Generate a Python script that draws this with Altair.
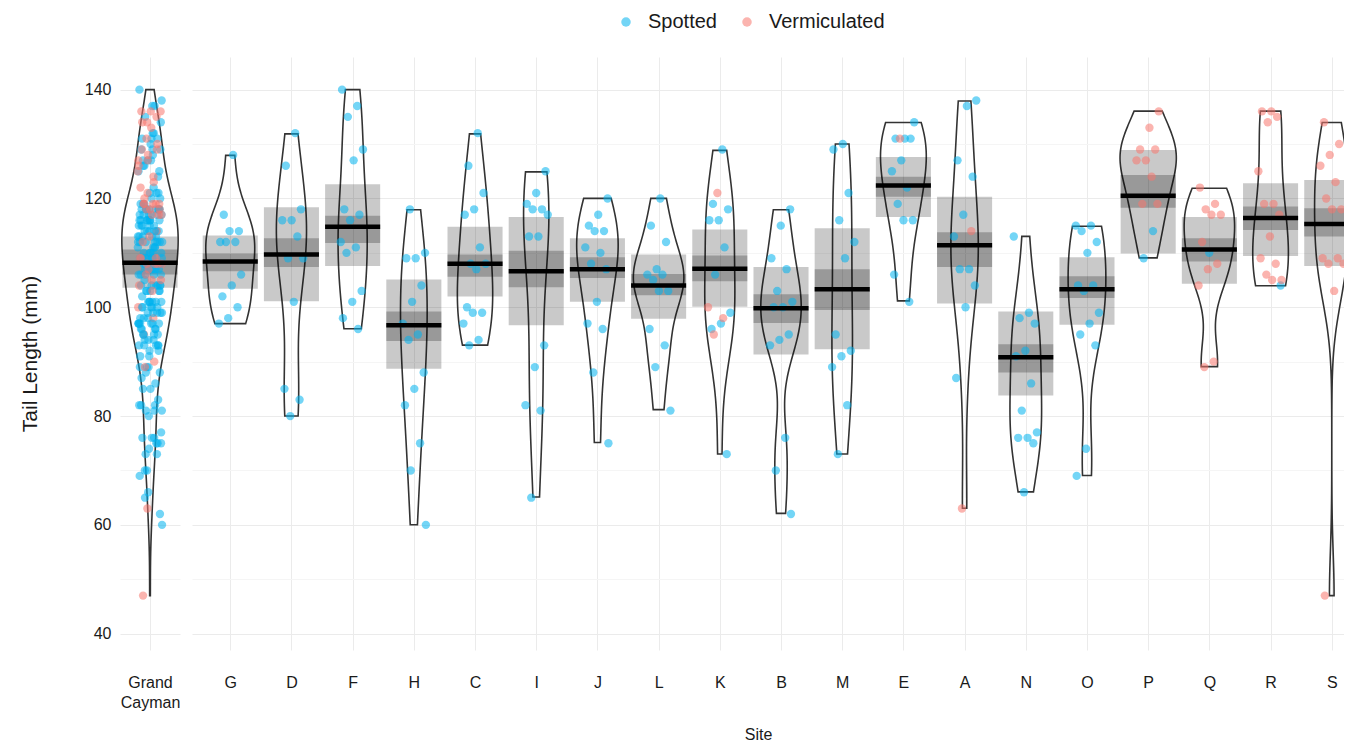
import json
import altair as alt
import pandas as pd

# ---------------- data ----------------
sites = ["G", "D", "F", "H", "C", "I", "J", "L", "K", "B", "M", "E", "A", "N", "O", "P", "Q", "R", "S"]

spotted = {
    "G": [128, 117, 114, 114, 112, 112, 112, 106, 104, 102, 100, 98, 97],
    "D": [132, 126, 118, 116, 116, 113, 109, 109, 101, 85, 83, 80],
    "F": [140, 137, 135, 129, 127, 118, 117, 116, 112, 111, 110, 103, 101, 98, 96],
    "H": [118, 110, 109, 109, 104, 101, 97, 95, 94, 88, 85, 82, 75, 70, 60],
    "C": [132, 126, 121, 118, 117, 111, 108, 108, 107, 100, 99, 99, 97, 94, 93],
    "I": [125, 121, 119, 118, 118, 117, 113, 113, 93, 89, 82, 81, 65],
    "J": [120, 117, 115, 114, 114, 111, 110, 108, 107, 101, 97, 96, 88, 75],
    "L": [120, 115, 112, 107, 106, 106, 105, 103, 103, 96, 93, 89, 81],
    "K": [129, 119, 118, 116, 116, 111, 106, 99, 97, 96, 73],
    "B": [118, 115, 109, 107, 103, 101, 100, 100, 95, 94, 93, 76, 70, 62],
    "M": [130, 129, 121, 116, 112, 109, 95, 92, 91, 89, 82, 73],
    "E": [134, 131, 131, 131, 127, 125, 122, 119, 116, 116, 106, 101],
    "A": [138, 137, 127, 124, 117, 113, 107, 107, 104, 100, 87],
    "N": [113, 99, 98, 97, 92, 91, 86, 81, 77, 76, 76, 75, 66],
    "O": [115, 115, 114, 112, 110, 104, 104, 103, 99, 97, 95, 93, 74, 69],
    "P": [114, 109],
    "Q": [110],
    "R": [104],
    "S": [],
}
vermiculated = {
    "G": [], "D": [], "F": [], "H": [], "C": [], "I": [], "J": [], "L": [],
    "K": [121, 100, 98, 95],
    "B": [], "M": [],
    "E": [131],
    "A": [114, 63],
    "N": [], "O": [],
    "P": [136, 133, 129, 129, 127, 127, 124, 119, 119],
    "Q": [122, 119, 118, 117, 117, 112, 108, 107, 104, 90, 89],
    "R": [136, 136, 135, 134, 125, 119, 119, 117, 113, 109, 108, 106, 105, 105],
    "S": [134, 130, 128, 126, 123, 120, 118, 118, 109, 109, 108, 108, 103, 47],
}

# mean line, light (HDI) box and dark (inference) band per site
site_mean = [108.4, 109.7, 114.8, 96.7, 108.0, 106.6, 107.0, 104.0, 107.1, 99.8,
             103.3, 122.4, 111.4, 90.8, 103.3, 120.5, 110.6, 116.4, 115.3]
hdi_lo = [103.4, 101.1, 107.6, 88.7, 102.0, 96.7, 101.0, 97.9, 100.1, 91.3,
          92.3, 116.6, 100.7, 83.8, 96.8, 109.9, 104.3, 109.4, 107.6]
hdi_hi = [113.2, 118.4, 122.6, 105.1, 114.8, 116.6, 112.7, 109.7, 114.3, 107.4,
          114.5, 127.6, 120.3, 99.2, 109.2, 128.9, 116.6, 122.8, 123.4]
band_lo = [106.6, 107.4, 111.8, 93.8, 105.6, 103.7, 105.4, 102.2, 104.8, 97.1,
           99.5, 120.3, 107.4, 88.0, 101.7, 118.3, 108.4, 114.2, 113.0]
band_hi = [109.9, 112.7, 116.8, 99.2, 109.7, 110.4, 109.2, 106.1, 109.5, 102.4,
           107.0, 124.0, 113.8, 93.2, 105.7, 124.3, 112.7, 118.5, 118.2]

gc_name = "Grand Cayman"
gc_mean, gc_hdi_lo, gc_hdi_hi, gc_band_lo, gc_band_hi = 108.2, 103.6, 113.0, 106.0, 110.6

patterns = ["Spotted", "Vermiculated"]
pattern_colors = ["#00B2EE", "#F8766D"]

# ---------------- tables ----------------
rows = []
for i, s in enumerate(sites):
    for v in spotted[s]:
        rows.append({"site": s, "pos": i + 1, "tail": v, "pattern": "Spotted"})
    for v in vermiculated[s]:
        rows.append({"site": s, "pos": i + 1, "tail": v, "pattern": "Vermiculated"})
pts = pd.DataFrame(rows)
gc_pts = pts.assign(site=gc_name, pos=0)

summ = pd.DataFrame({"site": sites, "pos": list(range(1, len(sites) + 1)),
                     "mean": site_mean, "lo": hdi_lo, "hi": hdi_hi,
                     "blo": band_lo, "bhi": band_hi})
gc_summ = pd.DataFrame({"site": [gc_name], "pos": [0], "mean": [gc_mean],
                        "lo": [gc_hdi_lo], "hi": [gc_hdi_hi],
                        "blo": [gc_band_lo], "bhi": [gc_band_hi]})

FONT = "Liberation Sans"
YDOM = [37, 146]
MAIN_W = 1152
grid_color = {"condition": {"test": "datum.value % 20 === 0", "value": "#EBEBEB"}, "value": "#F5F5F5"}


def panel(pdata, sdata, xdomain, width, xaxis, yaxis):
    xs = alt.Scale(domain=xdomain, nice=False, zero=False)
    ys = alt.Scale(domain=YDOM, nice=False, zero=False)

    violin = (
        alt.Chart(pdata)
        .transform_joinaggregate(tmin="min(tail)", tmax="max(tail)", groupby=["site"])
        .transform_density("tail", groupby=["site", "pos", "tmin", "tmax"],
                           as_=["tail", "density"], steps=400)
        .transform_filter("datum.tail >= datum.tmin - 0.05 && datum.tail <= datum.tmax + 0.05")
        .transform_joinaggregate(maxd="max(density)")
        .transform_calculate(
            vx1="datum.pos - 0.46 * datum.density / datum.maxd",
            vx2="datum.pos + 0.46 * datum.density / datum.maxd",
        )
        .mark_area(orient="horizontal", fillOpacity=0, stroke="#333333", strokeWidth=1.6, clip=True)
        .encode(
            y=alt.Y("tail:Q", scale=ys, axis=yaxis),
            x=alt.X("vx1:Q", scale=xs, axis=xaxis),
            x2="vx2:Q",
            detail="site:N",
        )
    )
    sbase = alt.Chart(sdata).transform_calculate(bx1="datum.pos - 0.45", bx2="datum.pos + 0.45")
    light = sbase.mark_rect(color="black", opacity=0.21, clip=True).encode(
        x=alt.X("bx1:Q", scale=xs, axis=xaxis), x2="bx2:Q",
        y=alt.Y("lo:Q", scale=ys, axis=yaxis), y2="hi:Q")
    dark = sbase.mark_rect(color="black", opacity=0.24, clip=True).encode(
        x=alt.X("bx1:Q", scale=xs, axis=xaxis), x2="bx2:Q",
        y=alt.Y("blo:Q", scale=ys, axis=yaxis), y2="bhi:Q")
    mean = sbase.mark_rule(color="black", strokeWidth=4.5, clip=True).encode(
        x=alt.X("bx1:Q", scale=xs, axis=xaxis), x2="bx2:Q",
        y=alt.Y("mean:Q", scale=ys, axis=yaxis))
    points = (
        alt.Chart(pdata)
        .transform_window(rn="row_number()")
        .transform_calculate(px="datum.pos + ((datum.rn * 0.6180339887) % 1 - 0.5) * 0.4")
        .mark_circle(size=70, opacity=0.55, clip=True)
        .encode(
            x=alt.X("px:Q", scale=xs, axis=xaxis),
            y=alt.Y("tail:Q", scale=ys, axis=yaxis),
            color=alt.Color(
                "pattern:N",
                scale=alt.Scale(domain=patterns, range=pattern_colors),
                legend=alt.Legend(orient="none", direction="horizontal", title=None,
                                  legendX=496, legendY=-45, labelFontSize=20,
                                  labelColor="#1A1A1A", symbolSize=90, symbolType="circle",
                                  labelOffset=12, columnPadding=20, labelFont=FONT),
            ),
        )
    )
    return alt.layer(violin, light, dark, points, mean).properties(width=width, height=593)


yticks = list(range(40, 150, 10))
gc_yaxis = alt.Axis(values=yticks, labelExpr="datum.value % 20 === 0 ? datum.label : ''",
                    gridColor=grid_color, ticks=False, domain=False, labelPadding=9,
                    labelFontSize=16, labelColor="#1A1A1A", title="Tail Length (mm)",
                    titleFontSize=21, titleFontWeight="normal", titleColor="#1A1A1A",
                    titlePadding=44, labelFont=FONT, titleFont=FONT)
main_yaxis = alt.Axis(values=yticks, labels=False, gridColor=grid_color, ticks=False,
                      domain=False, title=None)
gc_xaxis = alt.Axis(values=[0], labelExpr="['Grand', 'Cayman']", ticks=False, domain=False,
                    gridColor="#EBEBEB", labelFontSize=16, labelColor="#1A1A1A",
                    labelPadding=24, title=None, labelFont=FONT, labelLineHeight=20)
main_xaxis = alt.Axis(values=list(range(1, len(sites) + 1)),
                      labelExpr=json.dumps(sites).replace('"', "'") + "[datum.value - 1]",
                      ticks=False, domain=False, gridColor="#EBEBEB", labelFontSize=16,
                      labelColor="#1A1A1A", labelPadding=24, title="Site",
                      titleFontSize=16, titleFontWeight="normal", titleColor="#1A1A1A",
                      titlePadding=36, titleX=MAIN_W / 2 - 10, labelFont=FONT, titleFont=FONT)

left = panel(gc_pts, gc_summ, [-0.49, 0.49], 60, gc_xaxis, gc_yaxis)
right = panel(pts, summ, [0.375, 19.2], MAIN_W, main_xaxis, main_yaxis)

chart = (
    alt.hconcat(left, right, spacing=12)
    .resolve_scale(x="independent", y="independent")
    .properties(padding={"top": 4, "left": 11, "right": 0, "bottom": 0})
    .configure(font=FONT)
    .configure_view(stroke=None)
)

chart.save("out.html", embed_options={"renderer": "svg", "actions": False})
